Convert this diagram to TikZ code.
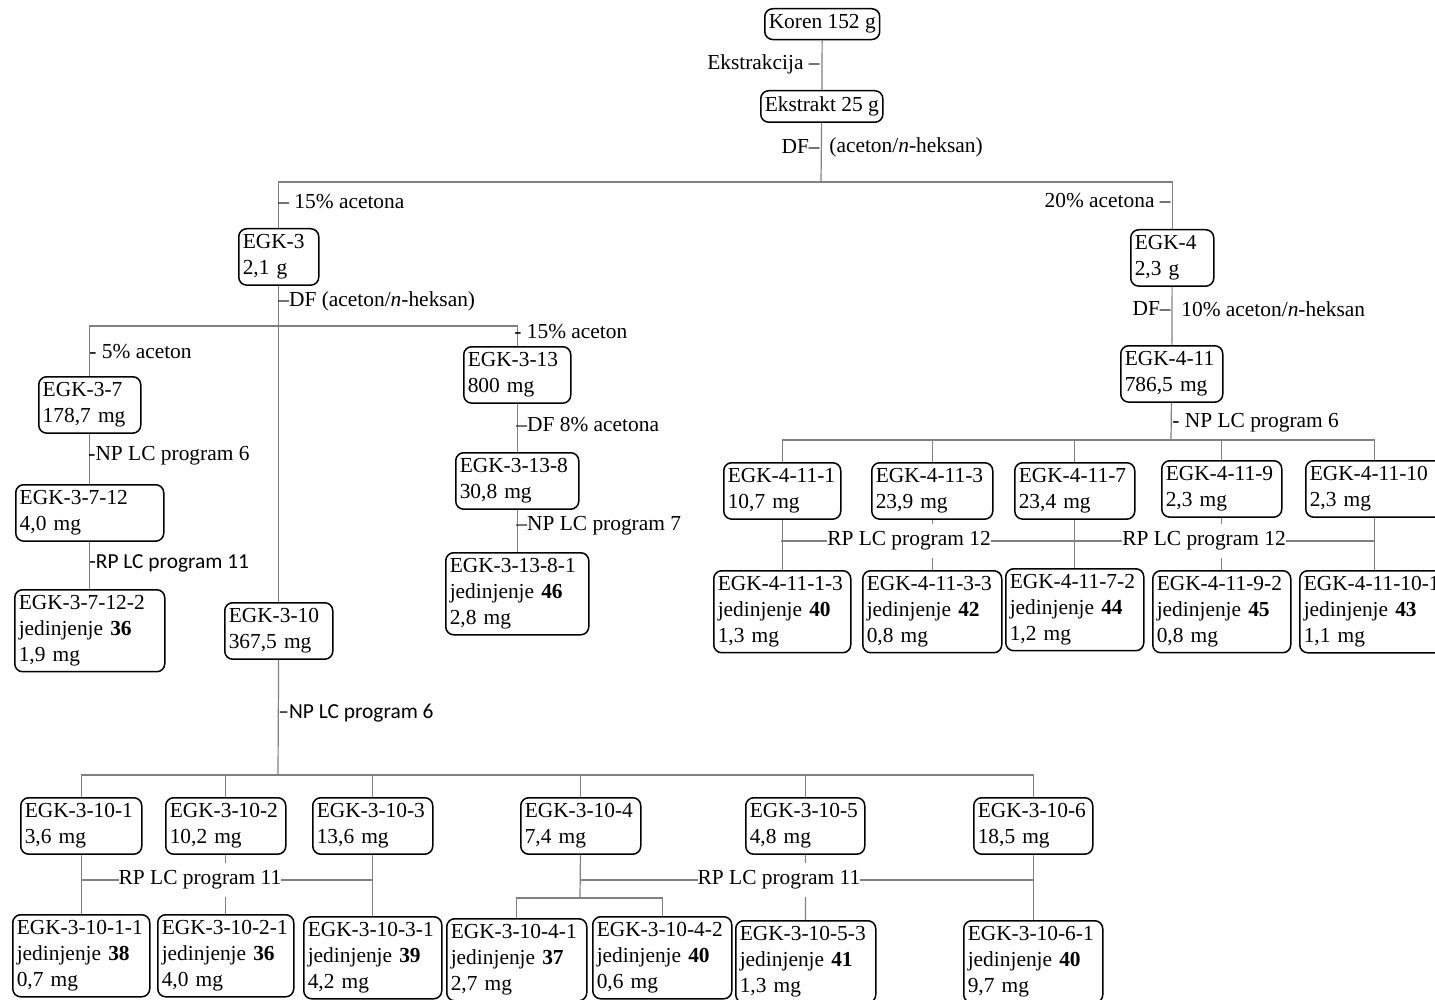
\documentclass[tikz,border=0pt]{standalone}
\usepackage{fontspec}
\setmainfont{Liberation Serif}
\newfontfamily\kalibri{Carlito}
\newcommand{\vel}{\fontsize{10.7}{12.8}\selectfont}
\definecolor{linija}{HTML}{808080}
\tikzset{
  kutija/.style={draw=black, line width=.75pt, rounded corners=4pt, fill=white,
    anchor=north west, align=left, inner xsep=2pt, inner ysep=3pt, font=\vel,
    execute at begin node={\exhyphenpenalty=10000\hyphenpenalty=10000}},
  veza/.style={draw=linija, line width=.6pt},
  oznaka/.style={inner sep=0pt, font=\vel},
  sans/.style={font=\kalibri\vel},
  naveza/.style={oznaka, fill=white, inner ysep=4pt},
}

\begin{document}
\begin{tikzpicture}[x=.5pt,y=-.5pt]
  \useasboundingbox (0,0) rectangle (1435,1000);

  % Polazni materijal i ekstrakt.
  \node[kutija] (koren) at (764,8) {Koren 152 g};
  \node[kutija] (ekstrakt) at (760,90) {Ekstrakt 25 g};

  % Frakcije posle DF.
  \node[kutija, text width=36pt] (egk3) at (238,228) {EGK-3\\2,1 g};
  \node[kutija, text width=37.5pt] (egk4) at (1130,229) {EGK-4\\2,3 g};

  % Grana EGK-3.
  \node[kutija, text width=47pt] (egk37) at (38,376) {EGK-3-7\\178,7 mg};
  \node[kutija, text width=70pt] (egk3712) at (15,484) {EGK-3-7-12\\4,0 mg};
  \node[kutija, text width=71pt] (egk37122) at (14,589)
    {EGK-3-7-12-2\\jedinjenje \textbf{36}\\1,9 mg};
  \node[kutija, text width=49.5pt] (egk313) at (463,346) {EGK-3-13\\800 mg};
  \node[kutija, text width=57.5pt] (egk3138) at (455,452) {EGK-3-13-8\\30,8 mg};
  \node[kutija, text width=67.5pt] (egk31381) at (445,552)
    {EGK-3-13-8-1\\jedinjenje \textbf{46}\\2,8 mg};
  \node[kutija, text width=50pt] (egk310) at (224,602) {EGK-3-10\\367,5 mg};

  % Frakcije EGK-3-10.
  \node[kutija, text width=56.5pt] (e3101) at (20,797) {EGK-3-10-1\\3,6 mg};
  \node[kutija, text width=56pt] (e3102) at (165,797) {EGK-3-10-2\\10,2 mg};
  \node[kutija, text width=56pt] (e3103) at (312,797) {EGK-3-10-3\\13,6 mg};
  \node[kutija, text width=56pt] (e3104) at (520,797) {EGK-3-10-4\\7,4 mg};
  \node[kutija, text width=55.5pt] (e3105) at (745,797) {EGK-3-10-5\\4,8 mg};
  \node[kutija, text width=55.5pt] (e3106) at (973,797) {EGK-3-10-6\\18,5 mg};

  \node[kutija, text width=64.5pt] (e31011) at (12,914)
    {EGK-3-10-1-1\\jedinjenje \textbf{38}\\0,7 mg};
  \node[kutija, text width=64pt] (e31021) at (157,914)
    {EGK-3-10-2-1\\jedinjenje \textbf{36}\\4,0 mg};
  \node[kutija, text width=65pt] (e31031) at (303,916)
    {EGK-3-10-3-1\\jedinjenje \textbf{39}\\4,2 mg};
  \node[kutija, text width=66pt] (e31041) at (446,918)
    {EGK-3-10-4-1\\jedinjenje \textbf{37}\\2,7 mg};
  \node[kutija, text width=65.5pt] (e31042) at (592,916)
    {EGK-3-10-4-2\\jedinjenje \textbf{40}\\0,6 mg};
  \node[kutija, text width=66pt] (e31053) at (735,920)
    {EGK-3-10-5-3\\jedinjenje \textbf{41}\\1,3 mg};
  \node[kutija, text width=65.5pt] (e31061) at (963,920)
    {EGK-3-10-6-1\\jedinjenje \textbf{40}\\9,7 mg};

  % Grana EGK-4.
  \node[kutija, text width=47pt] (egk411) at (1120,345) {EGK-4-11\\786,5 mg};
  \node[kutija, text width=54.5pt] (e4111) at (723,462) {EGK-4-11-1\\10,7 mg};
  \node[kutija, text width=56.5pt] (e4113) at (871,462) {EGK-4-11-3\\23,9 mg};
  \node[kutija, text width=56pt] (e4117) at (1014,462) {EGK-4-11-7\\23,4 mg};
  \node[kutija, text width=56pt] (e4119) at (1161,460) {EGK-4-11-9\\2,3 mg};
  \node[kutija, text width=65pt] (e41110) at (1305,460) {EGK-4-11-10\\2,3 mg};

  \node[kutija, text width=64.5pt] (e41113) at (713,570)
    {EGK-4-11-1-3\\jedinjenje \textbf{40}\\1,3 mg};
  \node[kutija, text width=65.5pt] (e41133) at (862,570)
    {EGK-4-11-3-3\\jedinjenje \textbf{42}\\0,8 mg};
  \node[kutija, text width=65pt] (e41172) at (1005,568)
    {EGK-4-11-7-2\\jedinjenje \textbf{44}\\1,2 mg};
  \node[kutija, text width=65pt] (e41192) at (1152,570)
    {EGK-4-11-9-2\\jedinjenje \textbf{45}\\0,8 mg};
  \node[kutija, text width=71pt] (e411101) at (1299,570)
    {EGK-4-11-10-1\\jedinjenje \textbf{43}\\1,1 mg};

  % Veze, gornji deo.
  \coordinate (g1) at (821,182);
  \draw[veza] (koren) -- (ekstrakt);
  \draw[veza] (ekstrakt) -- (g1);
  \draw[veza] (egk3) |- (g1) -| (egk4);
  \draw[veza] (egk4) -- (egk411);

  % Veze grane EGK-3.
  \coordinate (g2) at (278,326);
  \draw[veza] (egk3) -- (egk310);
  \draw[veza] (egk37) |- (g2) -| (egk313);
  \draw[veza] (egk37) -- (egk3712) -- (egk37122);
  \draw[veza] (egk313) -- (egk3138) -- (egk31381);

  % Veze EGK-3-10.
  \coordinate (g3) at (278,775);
  \draw[veza] (egk310) -- (g3);
  \draw[veza] (e3101) |- (g3) -| (e3106);
  \draw[veza] (e3102) |- (g3);
  \draw[veza] (e3103) |- (g3);
  \draw[veza] (e3104) |- (g3);
  \draw[veza] (e3105) |- (g3);
  \draw[veza] (e3101) -- (e31011);
  \draw[veza] (e3102) -- (e31021);
  \draw[veza] (e3103) -- (e31031);
  \coordinate (p1) at (81,880);
  \coordinate (p2) at (372,880);
  \draw[veza] (p1) -- (p2);
  \coordinate (g5) at (580,898);
  \draw[veza] (e3104) -- (g5);
  \draw[veza] (e31041) |- (g5) -| (e31042);
  \coordinate (p3) at (580,880);
  \coordinate (p4) at (1033,880);
  \draw[veza] (p3) -- (p4);
  \draw[veza] (e3105) -- (e31053);
  \draw[veza] (e3106) -- (e31061);

  % Veze EGK-4-11.
  \coordinate (g6) at (1171,440);
  \draw[veza] (egk411) -- (g6);
  \draw[veza] (e4111) |- (g6) -| (e41110);
  \draw[veza] (e4113) |- (g6);
  \draw[veza] (e4117) |- (g6);
  \draw[veza] (e4119) |- (g6);
  \draw[veza] (e4111) -- (e41113);
  \draw[veza] (e4113) -- (e41133);
  \draw[veza] (e4117) -- (e41172);
  \draw[veza] (e4119) -- (e41192);
  \draw[veza] (e41110) -- (e411101);
  \coordinate (p5) at (781,541);
  \coordinate (p6) at (1374,541);
  \draw[veza] (p5) -- (p6);

  % Oznake postupaka.
  \node[oznaka, anchor=east] (l-ekstr) at (820,64) {Ekstrakcija \textendash};
  \node[oznaka, anchor=east] (l-df1) at (820,147) {DF\textendash};
  \node[oznaka, anchor=west] (l-otap1) at (829,147) {(aceton/\textit{n}-heksan)};
  \node[oznaka, anchor=west] (l-15a) at (278,202) {\textendash\ 15\% acetona};
  \node[oznaka, anchor=east] (l-20a) at (1171,201) {20\% acetona \textendash};
  \node[oznaka, anchor=west] (l-df2) at (278,301) {\textendash DF (aceton/\textit{n}-heksan)};
  \node[oznaka, anchor=west] (l-5a) at (89,352) {- 5\% aceton};
  \node[oznaka, anchor=west] (l-15b) at (514,332) {- 15\% aceton};
  \node[oznaka, anchor=west] (l-df3) at (516,425) {\textendash DF 8\% acetona};
  \node[oznaka, anchor=west] (l-np7) at (516,526) {\textendash NP LC program 7};
  \node[oznaka, anchor=west] (l-np6a) at (88,456) {-NP LC program 6};
  \node[oznaka, sans, anchor=west] (l-rp11a) at (89,563) {-RP LC program 11};
  \node[oznaka, sans, anchor=west] (l-np6b) at (278,713) {\textendash NP LC program 6};
  \node[oznaka, anchor=east] (l-df4) at (1171,309) {DF\textendash};
  \node[oznaka, anchor=west] (l-otap2) at (1181,309) {10\% aceton/\textit{n}-heksan};
  \node[oznaka, anchor=west] (l-np6c) at (1172,423) {- NP LC program 6};
  \node[naveza] (l-rp12a) at (909,541) {RP LC program 12};
  \node[naveza] (l-rp12b) at (1204,541) {RP LC program 12};
  \node[naveza] (l-rp11b) at (200,880) {RP LC program 11};
  \node[naveza] (l-rp11c) at (779,880) {RP LC program 11};
\end{tikzpicture}
\end{document}
